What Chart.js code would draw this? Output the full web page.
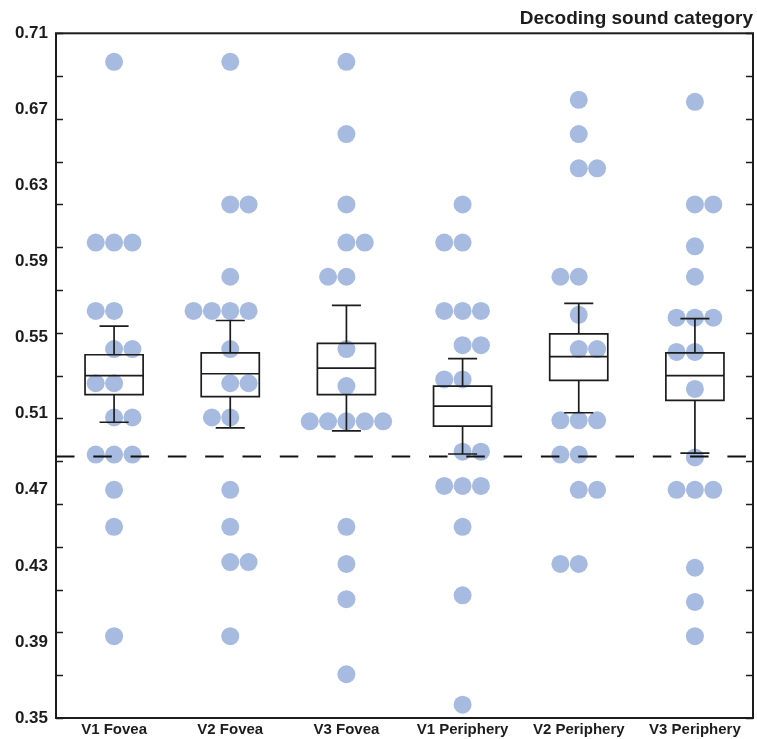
<!DOCTYPE html>
<html><head><meta charset="utf-8">
<script src="https://cdn.jsdelivr.net/npm/chart.js@4.4.1/dist/chart.umd.min.js"></script>
<style>html,body{margin:0;padding:0;background:#fff}canvas{display:block}</style>
</head><body>
<canvas id="c" width="757" height="739"></canvas>
<script>
// ---------- data ----------
const categories = ['V1 Fovea', 'V2 Fovea', 'V3 Fovea', 'V1 Periphery', 'V2 Periphery', 'V3 Periphery'];

const v1Fovea     = [0.695, 0.600, 0.600, 0.600, 0.564, 0.564, 0.544, 0.544, 0.526, 0.526, 0.508, 0.508, 0.4885, 0.4885, 0.4885, 0.470, 0.4505, 0.393];
const v2Fovea     = [0.695, 0.620, 0.620, 0.582, 0.564, 0.564, 0.564, 0.564, 0.544, 0.526, 0.526, 0.508, 0.508, 0.470, 0.4505, 0.432, 0.432, 0.393];
const v3Fovea     = [0.695, 0.657, 0.620, 0.600, 0.600, 0.582, 0.582, 0.544, 0.5245, 0.506, 0.506, 0.506, 0.506, 0.506, 0.4505, 0.431, 0.4125, 0.373];
const v1Periphery = [0.620, 0.600, 0.600, 0.564, 0.564, 0.564, 0.546, 0.546, 0.528, 0.528, 0.490, 0.490, 0.472, 0.472, 0.472, 0.4505, 0.4145, 0.357];
const v2Periphery = [0.675, 0.657, 0.639, 0.639, 0.582, 0.582, 0.562, 0.544, 0.544, 0.5065, 0.5065, 0.5065, 0.4885, 0.4885, 0.470, 0.470, 0.431, 0.431];
const v3Periphery = [0.674, 0.620, 0.620, 0.598, 0.582, 0.5605, 0.5605, 0.5605, 0.5425, 0.5425, 0.523, 0.487, 0.470, 0.470, 0.470, 0.429, 0.411, 0.393];

// box summaries (centre line, box, whiskers)
const whiskerHigh = [0.556, 0.559, 0.567, 0.539, 0.568, 0.560];
const boxHigh     = [0.541, 0.542, 0.547, 0.5245, 0.552, 0.542];
const centreLine  = [0.530, 0.531, 0.534, 0.514, 0.540, 0.530];
const boxLow      = [0.520, 0.519, 0.520, 0.5035, 0.5275, 0.517];
const whiskerLow  = [0.5055, 0.5025, 0.501, 0.4888, 0.5105, 0.4893];

const chanceLevel = 0.4875;

const yTickLabels = [0.35, 0.39, 0.43, 0.47, 0.51, 0.55, 0.59, 0.63, 0.67, 0.71];
const yTickMarks  = [0.35, 0.3725, 0.395, 0.4175, 0.44, 0.4625, 0.485, 0.5075, 0.53, 0.5525, 0.575, 0.5975, 0.62, 0.6425, 0.665, 0.6875, 0.71];

// which side gets the extra dot for even-sized groups (alternates down each column)
const swarmFirstSide = [-1, 1, 1, -1, 1, 1];

// ---------- build ----------
const SWARM_STEP = 0.158;
const seriesList = [v1Fovea, v2Fovea, v3Fovea, v1Periphery, v2Periphery, v3Periphery];

function swarmPoints(values, ci, firstSide) {
  const groups = [];
  values.forEach(v => {
    const g = groups.find(g => g.v === v);
    if (g) g.n++; else groups.push({ v: v, n: 1 });
  });
  let side = firstSide;
  const pts = [];
  groups.forEach(g => {
    let start;
    if (g.n % 2 === 1) start = -(g.n - 1) / 2;
    else { start = side < 0 ? -g.n / 2 : -(g.n / 2 - 1); side = -side; }
    for (let k = 0; k < g.n; k++) pts.push({ x: ci + (start + k) * SWARM_STEP, y: g.v });
  });
  return pts;
}

const dots = [];
seriesList.forEach((s, i) => swarmPoints(s, i, swarmFirstSide[i]).forEach(p => dots.push(p)));

const INK = '#1c1c1c';

const framePlugin = {
  id: 'frameAndBoxes',
  afterDatasetsDraw(chart) {
    const ctx = chart.ctx, xs = chart.scales.x, ys = chart.scales.y;
    ctx.save();
    ctx.strokeStyle = INK;
    ctx.lineWidth = 1.7;
    categories.forEach((c, i) => {
      const cx = xs.getPixelForValue(i);
      const hw = xs.getPixelForValue(i + 0.25) - cx;
      const cw = hw / 2;
      const yBH = ys.getPixelForValue(boxHigh[i]);
      const yBL = ys.getPixelForValue(boxLow[i]);
      const yC = ys.getPixelForValue(centreLine[i]);
      const yWH = ys.getPixelForValue(whiskerHigh[i]);
      const yWL = ys.getPixelForValue(whiskerLow[i]);
      ctx.beginPath();
      ctx.rect(cx - hw, yBH, 2 * hw, yBL - yBH);
      ctx.moveTo(cx - hw, yC); ctx.lineTo(cx + hw, yC);
      ctx.moveTo(cx, yBH); ctx.lineTo(cx, yWH);
      ctx.moveTo(cx - cw, yWH); ctx.lineTo(cx + cw, yWH);
      ctx.moveTo(cx, yBL); ctx.lineTo(cx, yWL);
      ctx.moveTo(cx - cw, yWL); ctx.lineTo(cx + cw, yWL);
      ctx.stroke();
    });
    ctx.restore();
  },
  afterDraw(chart) {
    const ctx = chart.ctx, a = chart.chartArea, ys = chart.scales.y;
    ctx.save();
    ctx.strokeStyle = INK;
    ctx.lineWidth = 2;
    ctx.strokeRect(a.left, a.top, a.right - a.left, a.bottom - a.top);
    ctx.lineWidth = 1.6;
    ctx.beginPath();
    yTickMarks.forEach(v => {
      const y = Math.round(ys.getPixelForValue(v)) + 0.5;
      ctx.moveTo(a.left, y); ctx.lineTo(a.left + 7, y);
      ctx.moveTo(a.right, y); ctx.lineTo(a.right - 7, y);
    });
    ctx.stroke();
    ctx.restore();
  }
};

new Chart(document.getElementById('c'), {
  data: {
    datasets: [
      {
        type: 'line',
        data: [{ x: -0.5, y: chanceLevel }, { x: 5.5, y: chanceLevel }],
        borderColor: '#111',
        borderWidth: 2,
        borderDash: [18.5, 18.8],
        pointRadius: 0,
        order: 0
      },
      {
        type: 'scatter',
        data: dots,
        backgroundColor: 'rgb(167,186,223)',
        borderWidth: 0,
        pointRadius: 9,
        pointHoverRadius: 9,
        order: 1
      }
    ]
  },
  options: {
    responsive: false,
    animation: false,
    devicePixelRatio: 1,
    events: [],
    layout: { autoPadding: false, padding: { top: 0, right: 4, bottom: 0, left: 0 } },
    plugins: {
      legend: { display: false },
      tooltip: { enabled: false },
      title: {
        display: true,
        text: 'Decoding sound category',
        align: 'end',
        color: INK,
        font: { family: 'Liberation Sans, Arial, sans-serif', size: 19, weight: 'bold' },
        padding: { top: 7, bottom: 3.5 }
      }
    },
    scales: {
      x: {
        type: 'linear',
        min: -0.5,
        max: 5.5,
        grid: { display: false, drawTicks: false },
        border: { display: false },
        afterBuildTicks: s => { s.ticks = categories.map((c, i) => ({ value: i })); },
        afterFit: s => { s.height = 21; s.paddingLeft = 0; s.paddingRight = 0; },
        ticks: {
          autoSkip: false,
          maxRotation: 0,
          padding: 3,
          color: INK,
          font: { family: 'Liberation Sans, Arial, sans-serif', size: 15, weight: 'bold' },
          callback: v => categories[Math.round(v)]
        }
      },
      y: {
        type: 'linear',
        min: 0.35,
        max: 0.71,
        grid: { display: false, drawTicks: false },
        border: { display: false },
        afterBuildTicks: s => { s.ticks = yTickLabels.map(v => ({ value: v })); },
        afterFit: s => { s.width = 56; },
        ticks: {
          padding: 8,
          color: INK,
          font: { family: 'Liberation Sans, Arial, sans-serif', size: 17, weight: 'bold' },
          callback: v => v.toFixed(2)
        }
      }
    }
  },
  plugins: [framePlugin]
});
</script>
</body></html>
